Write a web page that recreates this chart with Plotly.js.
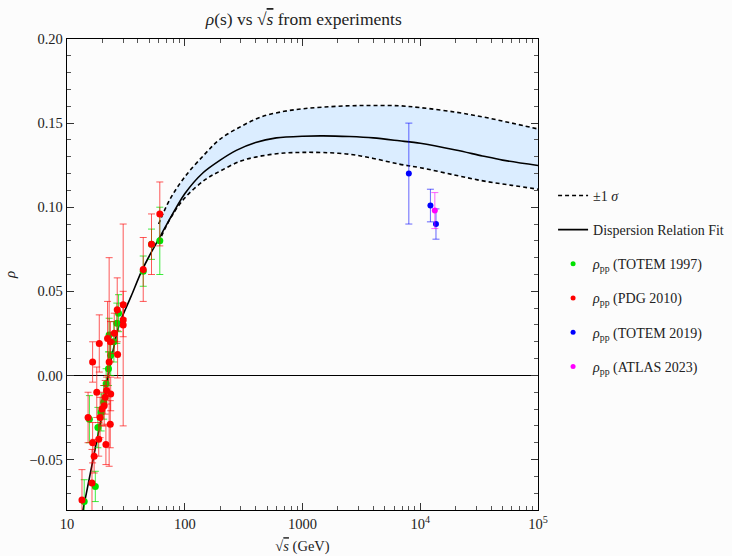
<!DOCTYPE html>
<html>
<head>
<meta charset="utf-8">
<script src="https://cdn.plot.ly/plotly-3.0.1.min.js"></script>
<style>html,body{margin:0;padding:0;background:#fcfcfc;}</style>
</head>
<body>
<div id="chart" style="width:732px;height:556px;"></div>
<script>
// Dispersion relation fit (central curve)
const fitX = [13.5, 15, 18, 20, 22.4, 25, 28, 35, 43, 50, 60, 70, 100, 143, 200, 274, 400, 600, 1000, 1500, 2500, 4000, 6640, 10000, 20000, 33700, 50000, 100000];
const fitY = [-0.082, -0.066, -0.038, -0.022, 0.0, 0.017, 0.031, 0.047, 0.062, 0.071, 0.081, 0.0895, 0.108, 0.1205, 0.128, 0.1338, 0.1385, 0.1412, 0.1422, 0.1424, 0.142, 0.1412, 0.1395, 0.138, 0.134, 0.1305, 0.128, 0.1248];

// ±1 sigma band
const bandX = [60, 75, 100, 150, 200, 300, 450, 700, 1000, 1500, 2500, 4000, 6640, 10000, 20000, 35000, 60000, 100000];
const bandUpper = [0.090, 0.1048, 0.118, 0.132, 0.1405, 0.148, 0.1538, 0.157, 0.1585, 0.1595, 0.1603, 0.1605, 0.1603, 0.1592, 0.1565, 0.1535, 0.150, 0.1465];
const bandLower = [0.079, 0.093, 0.1055, 0.1165, 0.1215, 0.1275, 0.1305, 0.1322, 0.1326, 0.1325, 0.1315, 0.129, 0.1256, 0.1235, 0.119, 0.1155, 0.113, 0.1107];

// TOTEM 1997 (green)
const totem97X = [14.0, 15.5, 17.4, 18.3, 19.5, 20.5, 21.5, 22.5, 22.8, 23.5, 25.0, 26.5, 27.4, 44.4, 52.2, 61.4];
const totem97Y = [-0.075, -0.026, -0.066, -0.031, -0.022, -0.016, -0.005, 0.004, 0.024, 0.012, 0.020, 0.031, 0.037, 0.062, 0.078, 0.080];
const totem97E = [0.013, 0.014, 0.009, 0.012, 0.011, 0.010, 0.009, 0.010, 0.010, 0.012, 0.012, 0.012, 0.011, 0.009, 0.009, 0.020];

// PDG 2010 (red)
const pdgX = [13.4, 15.1, 16.3, 16.5, 16.5, 17.0, 17.9, 18.6, 18.8, 19.1, 19.8, 20.7, 21.1, 21.4, 21.7, 22.1, 22.8, 23.3, 23.5, 23.4, 25.2, 26.7, 26.9, 30.0, 30.0, 30.0, 44.4, 52.2, 61.4];
const pdgY = [-0.074, -0.025, -0.064, -0.040, 0.008, -0.048, -0.010, -0.038, 0.019, -0.025, -0.020, -0.018, -0.013, -0.041, -0.009, 0.022, 0.008, -0.029, -0.011, 0.020, 0.025, 0.039, 0.0125, 0.042, 0.033, 0.030, 0.063, 0.078, 0.096];
const pdgE = [0.018, 0.015, 0.020, 0.012, 0.012, 0.010, 0.015, 0.010, 0.017, 0.012, 0.010, 0.012, 0.010, 0.012, 0.008, 0.022, 0.062, 0.014, 0.010, 0.012, 0.012, 0.019, 0.014, 0.008, 0.010, 0.060, 0.019, 0.018, 0.019];

// TOTEM 2019 (blue)
const totem19X = [8000, 12200, 13600];
const totem19Y = [0.120, 0.101, 0.090];
const totem19E = [0.030, 0.0097, 0.009];

// ATLAS 2023 (magenta)
const atlasX = [13300];
const atlasY = [0.098];
const atlasE = [0.0107];

const xTickVals = [10, 100, 1000, 10000, 100000];
const xTickText = ['10', '100', '1000', '10<sup>4</sup>', '10<sup>5</sup>'];
const yTickVals = [-0.05, 0, 0.05, 0.10, 0.15, 0.20];
const yTickText = ['\u22120.05', '0.00', '0.05', '0.10', '0.15', '0.20'];

const FONT = 'Liberation Serif, DejaVu Serif, serif';
const bandFill = 'rgb(219,237,255)';

function errTrace(x, y, e, mcol, ecol, msize) {
  return {
    x: x, y: y, type: 'scatter', mode: 'markers', showlegend: false, hoverinfo: 'skip',
    marker: {color: mcol, size: msize},
    error_y: {type: 'data', array: e, visible: true, color: ecol, thickness: 1, width: 3.5}
  };
}
function legendDot(name, col) {
  return {x: [null], y: [null], type: 'scatter', mode: 'markers', name: name,
          legendgroup: name, marker: {color: col, size: 5}};
}

const traces = [
  {x: bandX, y: bandLower, type: 'scatter', mode: 'lines', line: {width: 0, shape: 'spline'}, showlegend: false, hoverinfo: 'skip', legendgroup: 'sig'},
  {x: bandX, y: bandUpper, type: 'scatter', mode: 'lines', line: {width: 0, shape: 'spline'}, fill: 'tonexty', fillcolor: bandFill, showlegend: false, hoverinfo: 'skip', legendgroup: 'sig'},
  {x: bandX, y: bandLower, type: 'scatter', mode: 'lines', line: {color: 'black', width: 1.6, dash: '4px,3px', shape: 'spline'}, showlegend: false, legendgroup: 'sig'},
  {x: bandX, y: bandUpper, type: 'scatter', mode: 'lines', line: {color: 'black', width: 1.6, dash: '4px,3px', shape: 'spline'}, name: '\u00b11 <i>\u03c3</i>', legendgroup: 'sig'},
  {x: fitX, y: fitY, type: 'scatter', mode: 'lines', line: {color: 'black', width: 1.6, shape: 'spline', smoothing: 0.8}, name: 'Dispersion Relation Fit', legendgroup: 'fit'},
  errTrace(totem97X, totem97Y, totem97E, 'rgb(0,225,0)', 'rgba(0,230,0,0.75)', 7),
  errTrace(pdgX, pdgY, pdgE, 'rgb(255,0,0)', 'rgba(255,0,0,0.65)', 7),
  errTrace(totem19X, totem19Y, totem19E, 'rgb(0,0,255)', 'rgba(0,0,255,0.6)', 6),
  errTrace(atlasX, atlasY, atlasE, 'rgb(255,0,255)', 'rgba(255,0,255,0.6)', 6),
  legendDot('<i>\u03c1</i><sub>pp</sub> (TOTEM 1997)', 'rgb(0,225,0)'),
  legendDot('<i>\u03c1</i><sub>pp</sub> (PDG 2010)', 'rgb(255,0,0)'),
  legendDot('<i>\u03c1</i><sub>pp</sub> (TOTEM 2019)', 'rgb(0,0,255)'),
  legendDot('<i>\u03c1</i><sub>pp</sub> (ATLAS 2023)', 'rgb(255,0,255)')
];
traces.slice(5, 9).forEach((t, i) => { t.legendgroup = 'data' + i; });

const layout = {
  width: 732, height: 556,
  paper_bgcolor: '#fcfcfc', plot_bgcolor: '#fcfcfc',
  margin: {l: 67, r: 194, t: 39, b: 46, autoexpand: false},
  font: {family: FONT, size: 14, color: '#222'},
  title: {text: '<i>\u03c1</i>(s) vs \u221a<span style="text-decoration:overline"><i>s</i></span> from experiments',
          x: 0.415, xanchor: 'center', y: 0.966, yanchor: 'middle', font: {family: FONT, size: 17.5, color: '#222'}},
  xaxis: {
    type: 'log', range: [1, 5], showline: true, linecolor: 'black', linewidth: 1.3, mirror: 'allticks',
    ticks: 'inside', ticklen: 7, tickcolor: '#333', tickvals: xTickVals, ticktext: xTickText,
    showgrid: false, zeroline: false,
    minor: {ticks: 'inside', ticklen: 4, tickcolor: '#555', dtick: 'D1', showgrid: false},
    tickfont: {family: FONT, size: 14.5, color: '#222'},
    title: {text: '\u221a<span style="text-decoration:overline"><i>s</i></span> (GeV)', standoff: 10, font: {family: FONT, size: 14.5, color: '#222'}}
  },
  yaxis: {
    range: [-0.08, 0.20], showline: true, linecolor: 'black', linewidth: 1.3, mirror: 'allticks',
    ticks: 'inside', ticklen: 7, tickcolor: '#333', tickvals: yTickVals, ticktext: yTickText,
    showgrid: false, zeroline: true, zerolinecolor: 'black', zerolinewidth: 1,
    minor: {ticks: 'inside', ticklen: 4, tickcolor: '#555', dtick: 0.01, showgrid: false},
    tickfont: {family: FONT, size: 14.5, color: '#222'},
    title: {text: '<i>\u03c1</i>', standoff: 10, font: {family: FONT, size: 15, color: '#222'}}
  },
  legend: {
    x: 1.032, xanchor: 'left', y: 0.701, yanchor: 'top',
    bgcolor: 'rgba(0,0,0,0)', borderwidth: 0,
    font: {family: FONT, size: 14, color: '#222'},
    tracegroupgap: 13, traceorder: 'grouped'
  },
  showlegend: true
};

Plotly.newPlot('chart', traces, layout, {displayModeBar: false, staticPlot: true});
</script>
</body>
</html>
